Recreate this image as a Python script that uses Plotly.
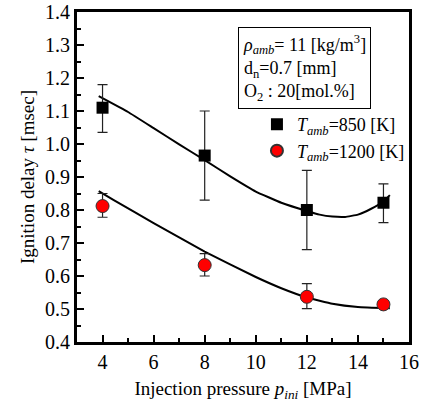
import plotly.graph_objects as go

# Data
pressure = [4, 8, 12, 15]
tau_850 = [1.11, 0.965, 0.80, 0.822]
err_850_plus = [0.07, 0.135, 0.12, 0.057]
err_850_minus = [0.075, 0.135, 0.12, 0.06]
tau_1200 = [0.812, 0.633, 0.537, 0.514]
err_1200_plus = [0.038, 0.035, 0.04, 0.01]
err_1200_minus = [0.034, 0.033, 0.036, 0.008]

# fitted curves
fit_850_x = [3.85, 5, 6, 7, 8, 9, 10, 11, 12, 12.5, 13, 13.5, 14, 14.5, 15, 15.25]
fit_850_y = [1.145, 1.097, 1.048, 0.999, 0.951, 0.902, 0.856, 0.822, 0.797, 0.786, 0.780, 0.779, 0.786, 0.803, 0.826, 0.845]
fit_1200_x = [3.85, 4.44, 6, 8, 10, 11, 12, 13, 14, 15.25]
fit_1200_y = [0.857, 0.83, 0.760, 0.674, 0.597, 0.563, 0.535, 0.516, 0.506, 0.502]

FONT = "Liberation Serif"

fig = go.Figure()
fig.add_trace(go.Scatter(x=fit_850_x, y=fit_850_y, mode="lines", line=dict(color="black", width=2, shape="spline", smoothing=0.3), showlegend=False, hoverinfo="skip"))
fig.add_trace(go.Scatter(x=fit_1200_x, y=fit_1200_y, mode="lines", line=dict(color="black", width=2, shape="spline", smoothing=0.3), showlegend=False, hoverinfo="skip"))
fig.add_trace(go.Scatter(
    x=pressure, y=tau_850, mode="markers", name="<i>T</i><sub><i>amb</i></sub>=850 [K]",
    marker=dict(symbol="square", size=12, color="black", line=dict(color="black", width=0)),
    error_y=dict(type="data", array=err_850_plus, arrayminus=err_850_minus, color="#222", thickness=1.2, width=5),
))
fig.add_trace(go.Scatter(
    x=pressure, y=tau_1200, mode="markers", name="<i>T</i><sub><i>amb</i></sub>=1200 [K]",
    marker=dict(symbol="circle", size=13, color="#ff0000", line=dict(color="#333", width=1)),
    error_y=dict(type="data", array=err_1200_plus, arrayminus=err_1200_minus, color="#222", thickness=1.2, width=5),
))

fig.update_layout(
    width=428, height=409,
    margin=dict(l=77, r=19, t=12, b=67),
    paper_bgcolor="white", plot_bgcolor="white",
    font=dict(family=FONT, size=18, color="black"),
    legend=dict(x=0.542, y=0.715, xanchor="left", yanchor="top", bgcolor="rgba(0,0,0,0)",
                font=dict(family=FONT, size=18), itemsizing="constant", tracegroupgap=0),
    showlegend=True,
)
fig.update_xaxes(
    range=[3, 16], tickvals=[4, 6, 8, 10, 12, 14, 16], automargin=False,
    ticks="inside", ticklen=7, tickwidth=2, tickcolor="black",
    minor=dict(dtick=1, tick0=3, ticks="inside", ticklen=4, tickwidth=2, tickcolor="black"),
    showline=True, linewidth=3, linecolor="black", mirror=True, showgrid=False, zeroline=False,
    tickfont=dict(family=FONT, size=20),
    title=dict(text="Injection pressure <i>p</i><sub><i>ini</i></sub> [MPa]", font=dict(family=FONT, size=19), standoff=10),
)
fig.update_yaxes(
    range=[0.4, 1.4], tickvals=[0.4, 0.5, 0.6, 0.7, 0.8, 0.9, 1.0, 1.1, 1.2, 1.3, 1.4], tickformat=".1f",
    automargin=False,
    ticks="inside", ticklen=7, tickwidth=2, tickcolor="black",
    minor=dict(dtick=0.05, ticks="inside", ticklen=4, tickwidth=2, tickcolor="black"),
    showline=True, linewidth=3, linecolor="black", mirror=True, showgrid=False, zeroline=False,
    tickfont=dict(family=FONT, size=20),
    title=dict(text="Ignition delay <i>τ</i> [msec]", font=dict(family=FONT, size=19), standoff=6),
)
fig.add_annotation(
    xref="paper", yref="paper", x=0.485, y=0.955, xanchor="left", yanchor="top", align="left",
    text="<i>ρ</i><sub><i>amb</i></sub>= 11 [kg/m<sup>3</sup>]<br>d<sub>n</sub>=0.7 [mm]<br>O<sub>2</sub> : 20[mol.%]",
    showarrow=False, font=dict(family=FONT, size=18, color="black"),
    bordercolor="black", borderwidth=1, borderpad=4, bgcolor="white",
)
fig.write_html("out.html", config={"displayModeBar": False},
               post_script="document.body.style.margin='0';")
